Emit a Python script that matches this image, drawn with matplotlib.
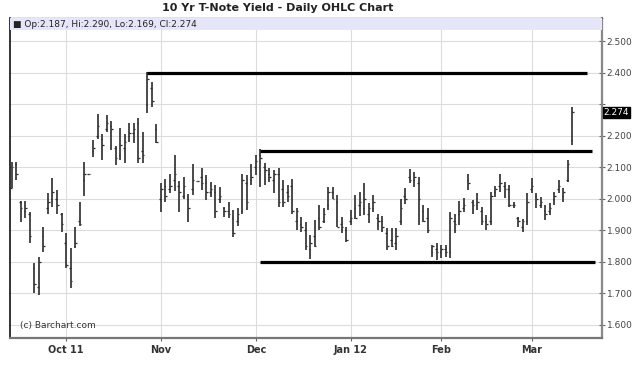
import matplotlib
matplotlib.use('Agg')
import matplotlib.pyplot as plt
from matplotlib.patches import Rectangle

# daily OHLC, 15 Sep 2011 .. 13 Mar 2012 (one entry per trading day)
opens = [2.035, 2.11, 1.99, 1.96, 1.95, 1.78, 1.72, 1.88, 1.97, 2.00, 2.00, 1.95,
         1.86, 1.78, 1.85, 1.93, 2.06, 2.077, 2.15, 2.20, 2.19, 2.22, 2.23, 2.16,
         2.14, 2.16, 2.20, 2.21, 2.24, 2.15, 2.30, 2.35, 2.22, 2.00, 2.04, 2.03,
         2.06, 2.04, 2.01, 2.00, 2.03, 2.057, 2.07, 2.05, 2.02, 2.02, 2.00, 1.97,
         1.96, 1.94, 1.93, 1.96, 2.05, 2.06, 2.10, 2.14, 2.10, 2.08, 2.06, 2.08,
         2.03, 2.02, 2.04, 1.93, 1.92, 1.90, 1.84, 1.88, 1.94, 1.93, 1.98, 2.02,
         1.99, 1.92, 1.90, 1.93, 1.97, 1.98, 1.97, 1.95, 1.97, 1.94, 1.93, 1.89,
         1.87, 1.86, 1.93, 2.01, 2.07, 2.06, 2.05, 1.96, 1.94, 1.83, 1.84, 1.83,
         1.84, 1.83, 1.93, 1.95, 1.97, 2.06, 1.99, 1.98, 1.96, 1.93, 1.93, 2.02,
         2.04, 2.04, 2.03, 1.98, 1.94, 1.91, 1.93, 2.03, 2.01, 1.98, 1.96, 1.96,
         2.00, 2.03, 2.01, 2.06, 2.187]
highs = [2.117, 2.117, 1.994, 1.994, 1.959, 1.795, 1.816, 1.909, 2.017, 2.067, 2.027, 1.956,
         1.890, 1.842, 1.911, 1.990, 2.117, 2.077, 2.186, 2.269, 2.205, 2.266, 2.247, 2.167,
         2.223, 2.207, 2.239, 2.239, 2.255, 2.213, 2.403, 2.371, 2.237, 2.049, 2.061, 2.080,
         2.139, 2.057, 2.068, 2.015, 2.109, 2.057, 2.096, 2.075, 2.054, 2.043, 2.038, 1.975,
         1.990, 1.964, 1.969, 2.080, 2.075, 2.109, 2.139, 2.157, 2.112, 2.096, 2.091, 2.096,
         2.059, 2.043, 2.061, 1.969, 1.943, 1.927, 1.885, 1.932, 1.980, 1.970, 2.038, 2.036,
         2.011, 1.941, 1.911, 1.964, 2.011, 2.022, 2.049, 1.985, 2.011, 1.953, 1.945, 1.906,
         1.906, 1.906, 2.000, 2.033, 2.093, 2.085, 2.070, 1.980, 1.970, 1.853, 1.858, 1.853,
         1.853, 1.959, 1.950, 1.993, 2.002, 2.080, 1.996, 2.017, 1.975, 1.948, 2.022, 2.040,
         2.080, 2.054, 2.043, 1.990, 1.943, 1.934, 2.017, 2.065, 2.017, 2.006, 1.980, 1.985,
         2.022, 2.059, 2.033, 2.123, 2.290]
lows = [2.033, 2.059, 1.927, 1.938, 1.858, 1.700, 1.694, 1.832, 1.953, 1.975, 1.953, 1.895,
        1.779, 1.715, 1.845, 1.914, 2.008, 2.077, 2.133, 2.189, 2.123, 2.213, 2.155, 2.107,
        2.123, 2.112, 2.181, 2.176, 2.114, 2.112, 2.271, 2.292, 2.176, 1.959, 1.990, 2.019,
        2.024, 1.959, 1.998, 1.927, 2.012, 2.057, 2.028, 1.996, 2.006, 1.938, 1.985, 1.943,
        1.938, 1.879, 1.913, 1.953, 1.964, 2.043, 2.075, 2.038, 2.043, 2.054, 2.017, 1.975,
        1.975, 1.990, 1.953, 1.900, 1.895, 1.837, 1.808, 1.848, 1.900, 1.922, 1.964, 2.000,
        1.911, 1.890, 1.864, 1.916, 1.937, 1.945, 1.948, 1.922, 1.959, 1.900, 1.895, 1.837,
        1.848, 1.837, 1.916, 1.983, 2.049, 2.038, 1.916, 1.927, 1.890, 1.816, 1.805, 1.811,
        1.816, 1.812, 1.890, 1.916, 1.959, 2.028, 1.953, 1.964, 1.916, 1.900, 1.916, 2.004,
        2.022, 2.001, 1.975, 1.969, 1.911, 1.895, 1.916, 2.017, 1.969, 1.969, 1.932, 1.948,
        1.980, 2.017, 1.990, 2.054, 2.169]
closes = [2.10, 2.08, 1.97, 1.97, 1.88, 1.73, 1.80, 1.85, 1.99, 2.02, 1.98, 1.92,
          1.79, 1.74, 1.86, 1.92, 2.08, 2.077, 2.16, 2.23, 2.17, 2.24, 2.22, 2.13,
          2.17, 2.18, 2.21, 2.22, 2.13, 2.14, 2.38, 2.31, 2.18, 2.03, 2.01, 2.04,
          2.08, 2.02, 2.04, 1.97, 2.06, 2.057, 2.05, 2.02, 2.03, 1.96, 2.01, 1.96,
          1.95, 1.89, 1.95, 2.06, 1.99, 2.07, 2.12, 2.13, 2.09, 2.07, 2.08, 1.99,
          1.99, 2.01, 1.96, 1.96, 1.91, 1.85, 1.86, 1.85, 1.91, 1.95, 2.02, 2.00,
          1.91, 1.91, 1.87, 1.94, 1.94, 1.99, 2.00, 1.97, 1.99, 1.93, 1.91, 1.85,
          1.85, 1.88, 1.97, 2.00, 2.06, 2.07, 2.00, 1.93, 1.90, 1.85, 1.83, 1.84,
          1.83, 1.94, 1.92, 1.96, 1.98, 2.05, 1.98, 1.99, 1.93, 1.92, 2.01, 2.03,
          2.05, 2.03, 1.98, 1.98, 1.93, 1.93, 1.99, 2.04, 2.00, 1.99, 1.95, 1.97,
          2.01, 2.04, 2.02, 2.11, 2.274]

month_labels = ['Oct 11', 'Nov', 'Dec', 'Jan 12', 'Feb', 'Mar']
month_start = [12, 33, 54, 75, 95, 115]   # bar index of first trading day
yticks = [1.6, 1.7, 1.8, 1.9, 2.0, 2.1, 2.2, 2.3, 2.4, 2.5]

# drawn support / resistance lines: (level, first bar, last bar)
levels = [(2.40, 30, 127.3), (2.15, 55, 128.4), (1.80, 55, 129.0)]

fig = plt.figure(figsize=(6.4, 3.75), dpi=100)
ax = fig.add_axes([10 / 640, 1 - 337.7 / 375, 591.7 / 640, 319.7 / 375])

x = list(range(len(highs)))
bar_col = '#2b2b2b'
ax.vlines(x, lows, highs, color=bar_col, lw=1.2, zorder=3)
ax.hlines(opens, [i - 0.35 for i in x], x, color=bar_col, lw=0.9, zorder=3)
ax.hlines(closes, x, [i + 0.35 for i in x], color=bar_col, lw=0.9, zorder=3)

for lev, x0, x1 in levels:
    ax.plot([x0, x1], [lev, lev], color='black', lw=2.3, solid_capstyle='butt', zorder=4)

ax.set_xlim(-0.4, 130.5)
ax.set_ylim(1.5587, 2.5737)

ax.set_yticks(yticks)
ax.yaxis.tick_right()
ax.set_yticklabels(['' if abs(v - 2.3) < 1e-6 else '%.3f' % v for v in yticks])
ax.tick_params(axis='y', direction='inout', length=5, width=0.8, color='#666666',
               labelsize=6.5, labelcolor='#444444', pad=1)
ax.set_xticks(month_start)
ax.set_xticklabels(month_labels, fontweight='bold')
ax.tick_params(axis='x', direction='out', length=2, width=0.8, color='#666666',
               labelsize=7, labelcolor='#333333', pad=3)

ax.grid(True, color='#dcdcdc', lw=0.8)
ax.set_axisbelow(True)

ax.spines['left'].set_color('#111111')
ax.spines['left'].set_linewidth(1.2)
ax.spines['bottom'].set_color('#777777')
ax.spines['bottom'].set_linewidth(1.6)
ax.spines['right'].set_color('#888888')
ax.spines['right'].set_linewidth(1.6)
ax.spines['top'].set_color('#666666')
ax.spines['top'].set_linewidth(1.0)

# header band with last bar values
ax.add_patch(Rectangle((0, 1 - 0.0375), 1, 0.0375, transform=ax.transAxes,
                       facecolor='#e6e6fa', edgecolor='none', zorder=5))
ax.text(0.005, 1 - 0.019, '\u25a0 Op:%.3f, Hi:%.3f, Lo:%.3f, Cl:%.3f'
        % (opens[-1], highs[-1], lows[-1], closes[-1]),
        transform=ax.transAxes, fontsize=6.5, color='#222222', va='center', zorder=6)

ax.text(1.003, closes[-1], '%.3f' % closes[-1], transform=ax.get_yaxis_transform(),
        fontsize=6.5, color='white', va='center', ha='left',
        bbox=dict(boxstyle='square,pad=0.1', facecolor='black', edgecolor='black'))

ax.text(0.017, 0.037, '(c) Barchart.com', transform=ax.transAxes,
        fontsize=6.5, color='#333333', va='center')

fig.text(0.434, 0.979, '10 Yr T-Note Yield - Daily OHLC Chart', ha='center', va='center',
         fontsize=8, fontweight='bold', color='#222222')

fig.savefig('out.png', dpi=100)
